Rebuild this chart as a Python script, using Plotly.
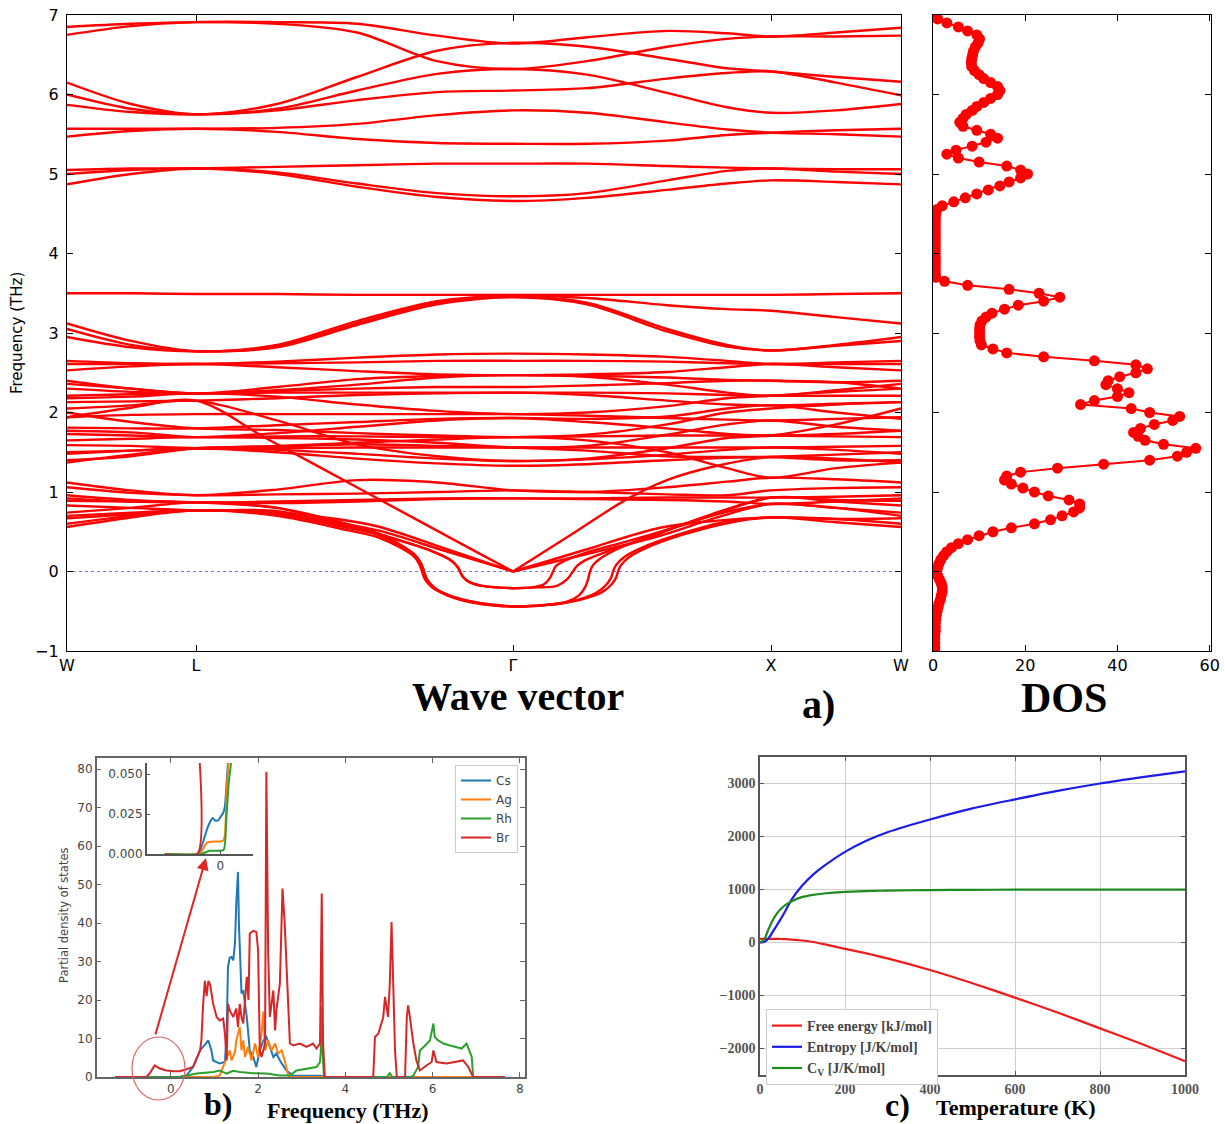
import numpy as np
import plotly.graph_objects as go

# ============================ DATA ============================
# ---- (a) phonon dispersion along W-L-Γ-X-W (path distance, arbitrary units)
kpath_ticks = [0, 129, 446, 704, 834]
kpath_labels = ['W', 'L', 'Γ', 'X', 'W']
kgrid = [0, 64, 129, 210, 290, 370, 446, 520, 600, 660, 704, 769, 834]

bands_upper = [
    [6.85, 6.89, 6.91, 6.89, 6.78, 6.42, 6.32, 6.42, 6.60, 6.70, 6.73, 6.73, 6.74],
    [6.75, 6.86, 6.91, 6.91, 6.89, 6.74, 6.64, 6.72, 6.80, 6.77, 6.73, 6.78, 6.84],
    [6.15, 5.88, 5.75, 5.88, 6.22, 6.55, 6.65, 6.60, 6.45, 6.33, 6.29, 6.22, 6.16],
    [6.00, 5.82, 5.75, 5.82, 6.05, 6.26, 6.32, 6.25, 6.02, 5.84, 5.77, 5.80, 5.88],
    [5.87, 5.78, 5.75, 5.80, 5.93, 6.03, 6.05, 6.08, 6.20, 6.27, 6.29, 6.15, 5.99],
    [5.57, 5.57, 5.57, 5.58, 5.63, 5.74, 5.80, 5.77, 5.65, 5.56, 5.52, 5.50, 5.47],
    [5.47, 5.54, 5.57, 5.53, 5.44, 5.39, 5.38, 5.38, 5.42, 5.49, 5.52, 5.55, 5.57],
    [5.05, 5.07, 5.07, 5.09, 5.11, 5.13, 5.13, 5.13, 5.10, 5.08, 5.07, 5.06, 5.06],
    [5.00, 5.05, 5.07, 5.02, 4.88, 4.76, 4.72, 4.76, 4.92, 5.04, 5.07, 5.03, 5.00],
    [4.87, 5.00, 5.07, 5.00, 4.84, 4.71, 4.66, 4.70, 4.80, 4.88, 4.92, 4.90, 4.87],
]

bands_middle = [
    [3.50, 3.50, 3.49, 3.49, 3.48, 3.48, 3.48, 3.48, 3.48, 3.48, 3.48, 3.49, 3.50],
    [3.12, 2.90, 2.77, 2.85, 3.15, 3.40, 3.47, 3.44, 3.35, 3.30, 3.28, 3.20, 3.12],
    [3.05, 2.85, 2.77, 2.83, 3.12, 3.38, 3.46, 3.38, 3.05, 2.85, 2.78, 2.85, 2.95],
    [2.95, 2.82, 2.77, 2.82, 3.10, 3.36, 3.45, 3.36, 3.02, 2.83, 2.78, 2.84, 2.90],
]

bands_lower = [
    [2.65, 2.62, 2.61, 2.64, 2.69, 2.73, 2.74, 2.73, 2.70, 2.65, 2.61, 2.63, 2.65],
    [2.61, 2.61, 2.61, 2.62, 2.63, 2.65, 2.65, 2.65, 2.64, 2.62, 2.61, 2.61, 2.61],
    [2.53, 2.58, 2.61, 2.57, 2.52, 2.48, 2.47, 2.48, 2.51, 2.57, 2.61, 2.57, 2.53],
    [2.40, 2.30, 2.24, 2.32, 2.42, 2.46, 2.47, 2.46, 2.44, 2.41, 2.40, 2.38, 2.40],
    [2.30, 2.26, 2.24, 2.27, 2.30, 2.32, 2.32, 2.34, 2.37, 2.40, 2.40, 2.38, 2.30],
    [2.21, 2.23, 2.24, 2.25, 2.25, 2.25, 2.25, 2.25, 2.24, 2.22, 2.21, 2.21, 2.21],
    [2.13, 2.14, 2.15, 2.18, 2.22, 2.24, 2.25, 2.22, 2.15, 2.10, 2.09, 2.11, 2.13],
    [2.05, 2.09, 2.15, 1.90, 1.60, 1.45, 1.39, 1.42, 1.55, 1.68, 1.71, 1.85, 2.05],
    [1.94, 1.97, 1.98, 1.98, 1.98, 1.98, 1.98, 1.96, 1.93, 1.91, 1.90, 1.92, 1.94],
    [1.81, 1.80, 1.80, 1.84, 1.88, 1.92, 1.93, 1.92, 1.95, 2.05, 2.09, 2.00, 1.92],
    [1.73, 1.71, 1.69, 1.70, 1.70, 1.69, 1.69, 1.70, 1.71, 1.71, 1.71, 1.70, 1.69],
    [1.65, 1.67, 1.69, 1.68, 1.66, 1.62, 1.56, 1.58, 1.72, 1.85, 1.90, 1.82, 1.77],
    [1.59, 1.58, 1.55, 1.55, 1.56, 1.56, 1.56, 1.56, 1.56, 1.56, 1.56, 1.57, 1.58],
    [1.48, 1.52, 1.55, 1.50, 1.42, 1.36, 1.33, 1.35, 1.40, 1.43, 1.44, 1.47, 1.50],
    [1.37, 1.47, 1.55, 1.58, 1.62, 1.66, 1.69, 1.65, 1.50, 1.30, 1.18, 1.30, 1.37],
    [2.18, 2.20, 2.24, 2.20, 2.10, 2.02, 1.98, 2.00, 2.08, 2.18, 2.21, 2.26, 2.30],
    [2.00, 1.88, 1.80, 1.78, 1.74, 1.71, 1.69, 1.72, 1.85, 2.00, 2.05, 2.10, 2.13],
    [2.36, 2.30, 2.24, 2.28, 2.35, 2.44, 2.47, 2.45, 2.35, 2.25, 2.21, 2.28, 2.36],
    [1.77, 1.75, 1.69, 1.74, 1.82, 1.90, 1.93, 1.88, 1.80, 1.73, 1.71, 1.73, 1.77],
    [1.50, 1.52, 1.55, 1.53, 1.48, 1.42, 1.39, 1.41, 1.47, 1.53, 1.56, 1.53, 1.48],
    [1.40, 1.45, 1.55, 1.57, 1.60, 1.58, 1.56, 1.52, 1.45, 1.44, 1.44, 1.40, 1.40],
    [1.12, 1.02, 0.96, 1.03, 1.15, 1.12, 1.02, 1.00, 1.06, 1.13, 1.18, 1.16, 1.12],
    [1.06, 0.99, 0.96, 0.97, 0.98, 1.00, 1.02, 1.00, 0.97, 0.96, 1.02, 1.05, 1.06],
    [0.96, 0.90, 0.87, 0.88, 0.90, 0.92, 0.92, 0.92, 0.93, 0.93, 0.93, 0.94, 0.96],
    [0.92, 0.88, 0.87, 0.86, 0.88, 0.91, 0.92, 0.91, 0.90, 0.88, 0.85, 0.88, 0.92],
]

# acoustic branches (separate segments on each side of Γ)
acoustic_k = [
    [0, 64, 129, 200, 300, 400, 446],
    [446, 500, 560, 600, 650, 704, 769, 834],
    [0, 64, 129, 210, 270, 313, 380, 446],
    [446, 520, 593, 650, 704, 769, 834],
    [0, 64, 129, 210, 270, 313, 380, 446],
    [446, 520, 593, 650, 704, 769, 834],
]
acoustic_f = [
    [1.94, 2.06, 2.15, 1.67, 0.99, 0.31, 0.0],
    [0.0, 0.43, 0.91, 1.15, 1.33, 1.44, 1.42, 1.37],
    [0.67, 0.72, 0.77, 0.74, 0.66, 0.56, 0.28, 0.0],
    [0.0, 0.28, 0.55, 0.64, 0.68, 0.66, 0.67],
    [0.74, 0.80, 0.87, 0.80, 0.62, 0.51, 0.25, 0.0],
    [0.0, 0.22, 0.45, 0.68, 0.85, 0.80, 0.74],
]

# soft (imaginary) branches
soft_k = [
    [0, 64, 129, 210, 280, 313, 346, 352, 355, 358, 365, 380, 405, 430, 446],
    [446, 470, 495, 515, 535, 544, 549, 551, 554, 562, 580, 615, 665, 704, 769, 834],
    [0, 64, 129, 210, 280, 313, 348, 354, 357, 360, 367, 382, 405, 430, 446],
    [446, 470, 495, 512, 530, 539, 544, 546, 549, 557, 575, 610, 660, 704, 769, 834],
    [0, 64, 129, 210, 280, 313, 348, 354, 357, 360, 367, 382, 405, 430, 446],
    [446, 480, 500, 512, 518, 521, 523, 526, 533, 550, 590, 650, 704, 769, 834],
    [0, 64, 129, 210, 280, 313, 360, 385, 391, 393, 396, 402, 415, 430, 446],
    [446, 465, 477, 483, 486, 489, 497, 520, 560, 620, 704, 769, 834],
    [0, 64, 129, 210, 280, 313, 360, 385, 391, 393, 396, 402, 415, 430, 446],
    [446, 470, 490, 500, 506, 510, 518, 540, 580, 640, 704, 769, 834],
]
soft_f = [
    [0.56, 0.68, 0.77, 0.70, 0.52, 0.42, 0.20, 0.10, 0.0, -0.10, -0.20, -0.30, -0.39, -0.43, -0.44],
    [-0.44, -0.43, -0.40, -0.35, -0.26, -0.17, -0.08, 0.0, 0.08, 0.18, 0.30, 0.46, 0.62, 0.68, 0.62, 0.56],
    [0.60, 0.70, 0.77, 0.72, 0.55, 0.45, 0.20, 0.10, 0.0, -0.10, -0.20, -0.30, -0.38, -0.42, -0.44],
    [-0.44, -0.43, -0.40, -0.35, -0.26, -0.17, -0.08, 0.0, 0.08, 0.18, 0.30, 0.46, 0.63, 0.68, 0.66, 0.60],
    [0.70, 0.74, 0.77, 0.73, 0.57, 0.47, 0.21, 0.10, 0.0, -0.10, -0.20, -0.30, -0.38, -0.43, -0.44],
    [-0.44, -0.42, -0.38, -0.30, -0.20, -0.10, 0.0, 0.08, 0.16, 0.28, 0.48, 0.72, 0.85, 0.80, 0.70],
    [0.89, 0.88, 0.87, 0.80, 0.60, 0.47, 0.28, 0.13, 0.05, 0.0, -0.07, -0.13, -0.18, -0.20, -0.21],
    [-0.21, -0.20, -0.16, -0.08, 0.0, 0.07, 0.13, 0.24, 0.38, 0.60, 0.93, 0.90, 0.89],
    [0.83, 0.80, 0.77, 0.76, 0.58, 0.46, 0.28, 0.13, 0.05, 0.0, -0.07, -0.13, -0.18, -0.20, -0.21],
    [-0.21, -0.20, -0.18, -0.10, 0.0, 0.07, 0.14, 0.25, 0.42, 0.70, 0.93, 0.88, 0.83],
]

# ---- (a) total DOS sampled every 0.05 THz from -1 to 7 THz
dos_values = [
    0.4, 0.4, 0.4, 0.4, 0.4, 0.5, 0.5, 0.5, 0.6, 0.7, 0.9, 1.1, 1.3, 1.6, 1.8, 2.0, 2.0, 1.8, 1.4, 1.0,
    0.8, 1.0, 1.3, 1.7, 2.3, 3.0, 4.0, 5.5, 7.5, 10.0, 13.0, 17.0, 22.0, 25.5, 28.0, 30.5, 31.8, 31.8, 29.5, 25.0,
    22.0, 19.5, 17.0, 15.5, 16.0, 19.0, 27.0, 37.0, 47.0, 53.0, 55.0, 57.0, 50.0, 46.0, 44.5, 43.5, 45.0, 48.0, 52.0, 53.5,
    47.0, 43.0, 32.0, 35.0, 40.0, 42.5, 40.0, 37.5, 38.0, 40.5, 44.0, 46.5, 44.0, 35.0, 24.0, 16.0, 13.0, 10.5, 10.2, 10.1,
    10.1, 10.1, 10.2, 10.6, 11.5, 12.8, 15.5, 18.5, 24.0, 27.5, 23.0, 16.5, 7.5, 2.5, 0.6, 0.5, 0.5, 0.5, 0.5, 0.5,
    0.5, 0.5, 0.5, 0.5, 0.5, 0.5, 0.5, 0.5, 0.5, 0.5, 0.6, 0.8, 2.0, 4.5, 7.0, 9.5, 12.0, 14.5, 16.5, 19.0,
    20.5, 19.0, 16.0, 10.0, 5.5, 3.0, 5.0, 8.5, 11.5, 14.0, 12.5, 9.5, 6.5, 5.8, 6.5, 7.2, 8.5, 9.5, 11.0, 12.5,
    14.0, 14.5, 14.0, 12.5, 11.0, 10.0, 9.0, 8.4, 8.3, 8.4, 8.6, 8.8, 9.2, 9.8, 10.1, 9.5, 7.5, 5.5, 3.0, 1.0,
    0.3,
]
dos_freq = np.linspace(-1.0, 7.0, len(dos_values))

# ---- (b) partial DOS
cs_x = [-1.28, 0.20, 0.36, 0.51, 0.67, 0.74, 0.82, 0.86, 0.93, 0.97, 1.12, 1.24, 1.28, 1.31, 1.35, 1.39, 1.43, 1.47,
        1.50, 1.54, 1.56, 1.60, 1.62, 1.66, 1.74, 1.81, 1.89, 1.96, 2.04, 2.12, 2.19, 2.27, 2.35, 2.42, 2.50, 2.65,
        2.81, 3.42, 3.57, 7.66]
cs_y = [0, 0, 0.4, 2.6, 6.9, 7.8, 8.7, 9.5, 6.9, 4.3, 3.5, 3.9, 11.3, 28.6, 31.0, 31.2, 30.3, 34.7,
        45.0, 53.3, 40.0, 28.0, 21.7, 22.5, 15.6, 6.9, 5.2, 2.6, 6.9, 9.5, 10.4, 7.8, 5.2, 6.1, 4.3, 1.7,
        0.3, 0.3, 0, 0]
ag_x = [-1.28, 1.00, 1.12, 1.28, 1.35, 1.39, 1.47, 1.50, 1.58, 1.62, 1.66, 1.70, 1.77, 1.85, 1.93, 2.00, 2.08,
        2.12, 2.16, 2.23, 2.31, 2.39, 2.46, 2.54, 2.61, 2.69, 2.73, 7.66]
ag_y = [0, 0, 0.4, 5.2, 6.9, 4.3, 6.5, 9.5, 13.0, 6.9, 9.5, 5.2, 7.8, 4.3, 8.7, 5.2, 11.3,
        17.0, 6.9, 9.5, 6.9, 8.7, 6.1, 6.9, 4.3, 0.4, 0, 0]
rh_x = [-1.28, 0.21, 0.59, 0.97, 1.12, 1.28, 1.43, 1.58, 1.89, 2.19, 2.50, 2.73, 2.88, 3.11, 3.34, 3.42, 3.44,
        3.46, 3.48, 3.51, 4.95, 5.02, 5.08, 5.50, 5.56, 5.67, 5.71, 5.83, 5.94, 6.02, 6.05, 6.13, 6.25, 6.40,
        6.55, 6.67, 6.78, 6.82, 6.90, 6.93, 7.66]
rh_y = [0, 0, 0.9, 1.3, 1.7, 0.9, 1.6, 1.3, 1.0, 0.9, 0.4, 0.4, 1.7, 2.2, 2.6, 3.9, 6.9,
        18.2, 6.9, 0, 0, 1.0, 0, 0, 0.4, 2.6, 6.9, 8.2, 9.5, 13.9, 10.4, 9.5, 8.7, 8.2,
        7.8, 7.4, 8.7, 7.4, 5.2, 0, 0]
br_x = [-1.28, -0.56, -0.48, -0.37, -0.25, -0.10, 0.05, 0.20, 0.36, 0.51, 0.67, 0.70, 0.74, 0.78, 0.82, 0.86,
        0.90, 0.97, 1.05, 1.12, 1.20, 1.24, 1.28, 1.31, 1.35, 1.43, 1.50, 1.54, 1.58, 1.62, 1.66, 1.74, 1.78,
        1.81, 1.89, 1.96, 2.00, 2.04, 2.08, 2.16, 2.19, 2.23, 2.27, 2.35, 2.39, 2.42, 2.50, 2.56, 2.61, 2.69,
        2.73, 2.81, 2.96, 3.11, 3.26, 3.34, 3.42, 3.46, 3.49, 3.53, 4.64, 4.68, 4.76, 4.87, 4.91, 4.98, 5.02,
        5.06, 5.10, 5.14, 5.18, 5.37, 5.41, 5.44, 5.48, 5.56, 5.63, 5.71, 5.86, 5.98, 6.02, 6.09, 6.32, 6.55,
        6.70, 6.82, 6.93, 7.66]
br_y = [0, 0, 1.0, 3.0, 2.2, 1.7, 1.5, 1.5, 2.0, 2.6, 6.9, 9.5, 19.0, 25.0, 21.0, 25.0,
        24.0, 19.0, 15.6, 14.7, 15.2, 11.3, 4.3, 19.0, 17.3, 15.6, 17.8, 13.0, 19.0, 15.6, 13.9, 26.0, 20.0,
        37.3, 38.0, 37.7, 33.0, 6.9, 5.2, 8.7, 79.3, 33.0, 15.6, 22.5, 12.1, 17.3, 24.3, 49.0, 40.0, 20.0,
        8.7, 8.2, 8.7, 7.8, 8.7, 7.4, 8.7, 47.7, 8.7, 0, 0, 10.4, 11.3, 15.6, 20.8, 15.6, 24.3,
        40.3, 24.3, 6.9, 0, 0, 15.6, 18.6, 15.6, 8.7, 4.3, 1.7, 3.0, 3.9, 6.9, 3.9, 3.5, 3.9,
        4.3, 2.6, 0, 0]

# inset (zoom around 0 THz)
inset_cs_x = [-0.52, -0.215, -0.19, -0.159, -0.127, -0.096, -0.07, -0.049, -0.02, 0.0, 0.029, 0.044, 0.06, 0.075]
inset_cs_y = [0, 0, 0.002, 0.008, 0.015, 0.020, 0.0225, 0.021, 0.021, 0.023, 0.026, 0.030, 0.045, 0.060]
inset_ag_x = [-0.52, -0.20, -0.17, -0.127, -0.05, 0.0, 0.029, 0.044, 0.06, 0.08]
inset_ag_y = [0, 0, 0.002, 0.007, 0.0078, 0.0078, 0.0085, 0.012, 0.040, 0.060]
inset_rh_x = [-0.52, -0.18, -0.10, 0.03, 0.055, 0.08, 0.107]
inset_rh_y = [0, 0, 0.002, 0.0025, 0.020, 0.045, 0.060]
inset_br_x = [-0.52, -0.215, -0.214]
inset_br_y = [0, 0, 0.08]

# ---- (c) thermodynamic properties
temp_K = [0, 10, 20, 30, 40, 50, 60, 75, 100, 125, 150, 200, 250, 300, 400, 500, 600, 700, 800, 900, 1000]
free_energy = [70, 70, 70, 69, 68, 66, 63, 56, 38, 10, -30, -120, -205, -300, -520, -770, -1040, -1320, -1620, -1920, -2240]
entropy = [0, 10, 80, 200, 330, 460, 600, 820, 1080, 1280, 1440, 1710, 1920, 2080, 2320, 2530, 2700, 2860, 3000, 3120, 3230]
heat_cv = [0, 60, 250, 420, 550, 640, 710, 780, 860, 900, 925, 955, 970, 980, 990, 994, 996, 997, 998, 999, 999]

# ============================ FIGURE ============================
FW, FH = 1225, 1124


def px(x):
    return x / FW


def py(y):
    return 1 - y / FH


fig = go.Figure()
RED = '#ff0000'
band_line = dict(color=RED, width=2.4, shape='spline', smoothing=0.9)

# zero line
fig.add_trace(go.Scatter(x=[kpath_ticks[0], kpath_ticks[-1]], y=[0, 0], mode='lines',
                         line=dict(color='#7878f0', width=1, dash='dot'),
                         xaxis='x', yaxis='y', showlegend=False, hoverinfo='skip'))

for b in bands_upper + bands_middle + bands_lower:
    fig.add_trace(go.Scatter(x=kgrid, y=b, mode='lines', line=band_line,
                             xaxis='x', yaxis='y', showlegend=False, hoverinfo='skip'))
for kk, ff in zip(acoustic_k + soft_k, acoustic_f + soft_f):
    fig.add_trace(go.Scatter(x=kk, y=ff, mode='lines', line=band_line,
                             xaxis='x', yaxis='y', showlegend=False, hoverinfo='skip'))

# DOS
fig.add_trace(go.Scatter(x=dos_values, y=dos_freq, mode='lines+markers',
                         line=dict(color=RED, width=2),
                         marker=dict(color=RED, size=11),
                         xaxis='x2', yaxis='y2', showlegend=False, hoverinfo='skip'))

# PDOS
pdos_colors = {'Cs': '#1f77b4', 'Ag': '#ff7f0e', 'Rh': '#2ca02c', 'Br': '#d62728'}
for name, xs, ys in [('Cs', cs_x, cs_y), ('Ag', ag_x, ag_y), ('Rh', rh_x, rh_y), ('Br', br_x, br_y)]:
    fig.add_trace(go.Scatter(x=xs, y=ys, mode='lines', name=name,
                             line=dict(color=pdos_colors[name], width=2),
                             xaxis='x3', yaxis='y3', legend='legend', hoverinfo='skip'))
for name, xs, ys in [('Cs', inset_cs_x, inset_cs_y), ('Ag', inset_ag_x, inset_ag_y),
                     ('Rh', inset_rh_x, inset_rh_y), ('Br', inset_br_x, inset_br_y)]:
    fig.add_trace(go.Scatter(x=xs, y=ys, mode='lines', name=name,
                             line=dict(color=pdos_colors[name], width=2, shape='spline', smoothing=0.6),
                             xaxis='x4', yaxis='y4', showlegend=False, hoverinfo='skip'))

# thermal
for name, ys, col in [('Free energy [kJ/mol]', free_energy, '#ee1c1c'),
                      ('Entropy [J/K/mol]', entropy, '#1c1ce6'),
                      ('C<sub>V</sub> [J/K/mol]', heat_cv, '#1f8a1f')]:
    fig.add_trace(go.Scatter(x=temp_K, y=ys, mode='lines', name=name,
                             line=dict(color=col, width=2.2, shape='spline', smoothing=0.8),
                             xaxis='x5', yaxis='y5', legend='legend2', hoverinfo='skip'))

blk_font = dict(family='DejaVu Sans', size=16, color='black')
gray_font = dict(family='DejaVu Sans', size=12, color='#444')
serif_tick = dict(family='Liberation Serif', size=14, color='#555', weight='bold')

common_a = dict(showgrid=False, zeroline=False, showline=True, linecolor='black', linewidth=1.2,
                mirror='ticks', ticks='inside', ticklen=6, tickcolor='black', automargin=False)
common_b = dict(showgrid=False, zeroline=False, showline=True, linecolor='#666', linewidth=1.5,
                mirror='ticks', ticks='inside', ticklen=5, tickcolor='#666', automargin=False)

fig.update_layout(
    width=FW, height=FH, margin=dict(l=0, r=0, t=0, b=0, autoexpand=False), autosize=False,
    paper_bgcolor='white', plot_bgcolor='white',
    xaxis=dict(domain=[px(67), px(901)], range=[0, 834], anchor='y',
               tickvals=kpath_ticks, ticktext=kpath_labels, tickfont=blk_font, **common_a),
    yaxis=dict(domain=[py(651), py(15)], range=[-1, 7], anchor='x', tickmode='linear', tick0=-1, dtick=1,
               tickfont=blk_font, ticklabelstandoff=4, **common_a),
    xaxis2=dict(domain=[px(933), px(1211)], range=[0, 60.3], anchor='y2',
                tickvals=[0, 20, 40, 60], tickfont=blk_font, **common_a),
    yaxis2=dict(domain=[py(651), py(15)], range=[-1, 7], anchor='x2', tickmode='linear', tick0=-1, dtick=1,
                showticklabels=False, **common_a),
    xaxis3=dict(domain=[px(96.7), px(525)], range=[-1.7, 8.12], anchor='y3',
                tickvals=[0, 2, 4, 6, 8], tickfont=gray_font, **common_b),
    yaxis3=dict(domain=[py(1077), py(758)], range=[0, 82.9], anchor='x3',
                tickvals=[0, 10, 20, 30, 40, 50, 60, 70, 80], tickfont=gray_font, **common_b),
    xaxis4=dict(domain=[px(146.7), px(253.3)], range=[-0.69, 0.31], anchor='y4',
                tickvals=[0], ticktext=['0'], tickfont=gray_font, showgrid=False, zeroline=False,
                showline=True, linecolor='#555', linewidth=1.5, ticks='inside', ticklen=4, tickcolor='#555',
                automargin=False),
    yaxis4=dict(domain=[py(854), py(763)], range=[0, 0.057], anchor='x4',
                tickvals=[0, 0.025, 0.05], ticktext=['0.000', '0.025', '0.050'], tickfont=gray_font,
                showgrid=False, zeroline=False, showline=True, linecolor='#555', linewidth=1.5,
                ticks='inside', ticklen=4, tickcolor='#555', automargin=False),
    xaxis5=dict(domain=[px(760), px(1185)], range=[0, 1000], anchor='y5',
                tickvals=[0, 200, 400, 600, 800, 1000], tickfont=serif_tick,
                showgrid=True, gridcolor='#cfcfcf', gridwidth=1.2, zeroline=False, showline=True,
                linecolor='#555', linewidth=1.5, mirror='ticks', ticks='inside', ticklen=4, tickcolor='#555',
                automargin=False),
    yaxis5=dict(domain=[py(1075), py(757)], range=[-2500, 3500], anchor='x5',
                tickvals=[-2000, -1000, 0, 1000, 2000, 3000], tickfont=serif_tick,
                showgrid=True, gridcolor='#cfcfcf', gridwidth=1.2, zeroline=False, showline=True,
                linecolor='#555', linewidth=1.5, mirror='ticks', ticks='inside', ticklen=4, tickcolor='#555',
                automargin=False),
    legend=dict(x=px(518), xanchor='right', y=py(765), yanchor='top', bgcolor='white',
                bordercolor='#cccccc', borderwidth=1, font=dict(family='DejaVu Sans', size=12, color='#444'),
                itemwidth=30, tracegroupgap=0),
    legend2=dict(x=px(766), xanchor='left', y=py(1009), yanchor='top', bgcolor='white',
                 bordercolor='#cccccc', borderwidth=1,
                 font=dict(family='Liberation Serif', size=14, color='#444', weight='bold'),
                 itemwidth=30, tracegroupgap=0),
)

serif_b = 'Liberation Serif'
annotations = [
    dict(x=px(17), y=py(333), text='Frequency (THz)', textangle=-90,
         font=dict(family='DejaVu Sans', size=15, color='black')),
    dict(x=px(518), y=py(696), text='Wave vector', font=dict(family=serif_b, size=40, color='black', weight='bold')),
    dict(x=px(818), y=py(704), text='a)', font=dict(family=serif_b, size=40, color='black', weight='bold')),
    dict(x=px(1064), y=py(698), text='DOS', font=dict(family=serif_b, size=42, color='black', weight='bold')),
    dict(x=px(64), y=py(916), text='Partial density of states', textangle=-90,
         font=dict(family='DejaVu Sans', size=11.5, color='#444')),
    dict(x=px(218), y=py(1104), text='b)', font=dict(family=serif_b, size=32, color='black', weight='bold')),
    dict(x=px(348), y=py(1110), text='Frequency (THz)', font=dict(family=serif_b, size=22, color='black', weight='bold')),
    dict(x=px(897), y=py(1105), text='c)', font=dict(family=serif_b, size=32, color='black', weight='bold')),
    dict(x=px(1016), y=py(1107), text='Temperature (K)', font=dict(family=serif_b, size=22, color='black', weight='bold')),
]
for a in annotations:
    a.update(xref='paper', yref='paper', showarrow=False, xanchor='center', yanchor='middle')
# arrow from circled region to inset
annotations.append(dict(xref='paper', yref='paper', x=px(206), y=py(858), ax=-51, ay=178,
                        showarrow=True, arrowhead=2, arrowsize=1.2, arrowwidth=2, arrowcolor='#e02424', text=''))
fig.update_layout(annotations=annotations)
fig.add_shape(type='circle', xref='paper', yref='paper', x0=px(132), x1=px(185), y0=py(1100), y1=py(1037),
              line=dict(color='#e06666', width=1.2))

fig.write_html('out.html')
